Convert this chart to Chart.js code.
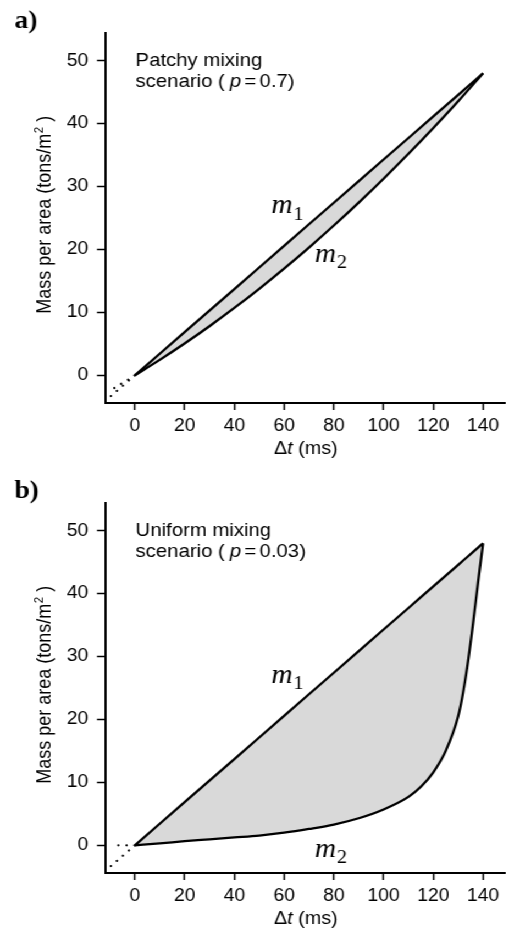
<!DOCTYPE html>
<html><head><meta charset="utf-8">
<script src="https://cdn.jsdelivr.net/npm/chart.js@4.4.0/dist/chart.umd.min.js"></script>
<style>
html,body{margin:0;padding:0;background:#fff;overflow:hidden;width:509px;height:931px;}
#wrap{position:absolute;left:0;top:0;width:463px;height:931px;transform:scaleX(1.0994);transform-origin:0 0;}
canvas{position:absolute;left:0;}
</style></head><body>
<div id="wrap">
<canvas id="ca" width="463" height="465" style="top:0px;width:463px;height:465px"></canvas>
<canvas id="cb" width="463" height="461" style="top:470px;width:463px;height:461px"></canvas>
</div>
<script>
// ---- data ----
const xTicks = [0, 20, 40, 60, 80, 100, 120, 140];
const yTicks = [0, 10, 20, 30, 40, 50];

// panel a: patchy mixing (p = 0.7)
const xA  = [0, 10, 20, 30, 40, 50, 60, 70, 80, 90, 100, 110, 120, 130, 140];
const m1A = [0, 3.43, 6.86, 10.29, 13.71, 17.14, 20.57, 24, 27.43, 30.86, 34.29, 37.71, 41.14, 44.57, 48];
const m2A = [0, 2.45, 5.05, 7.8, 10.7, 13.75, 16.95, 20.3, 23.8, 27.45, 31.25, 35.2, 39.3, 43.55, 48];
const extXA1 = [0, -10.5], extYA1 = [0, -3.6];
const extXA2 = [0, -10],   extYA2 = [0, -2.45];

// panel b: uniform mixing (p = 0.03)
const xB  = [0, 10, 20, 30, 40, 50, 60, 70, 80, 90, 100, 110, 115, 120, 125, 130, 132, 134, 136, 138, 139, 140];
const m1B = [0, 3.43, 6.86, 10.29, 13.71, 17.14, 20.57, 24, 27.43, 30.86, 34.29, 37.71, 39.43, 41.14, 42.86, 44.57, 45.26, 45.94, 46.63, 47.31, 47.66, 48];
const m2B = [0, 0.3, 0.65, 0.95, 1.25, 1.55, 2.0, 2.6, 3.3, 4.3, 5.7, 7.7, 9.3, 11.6, 15.0, 20.5, 24.3, 29.3, 35.3, 41.8, 44.9, 48];
const extXB1 = [0, -10.5], extYB1 = [0, -3.6];
const extXB2 = [0, -9.5],  extYB2 = [0, 0];

// ---- drawing ----
const SANS = '"Liberation Sans", Arial, sans-serif';
const SERIF = '"Liberation Serif", "Times New Roman", serif';
const pts = (xs, ys) => xs.map((x, i) => ({x: x, y: ys[i]}));

function drawM(ctx, sub, x, y) {
  ctx.font = 'italic 27px ' + SERIF;
  ctx.fillText('m', x, y);
  const w = ctx.measureText('m').width;
  ctx.font = '19px ' + SERIF;
  ctx.fillText(sub, x + w + 0.5, y + 6.5);
}

const txtPlugin = {
  id: 'txt',
  afterDraw(chart, args, o) {
    const ctx = chart.ctx, xs = chart.scales.x, ys = chart.scales.y;
    ctx.save();
    ctx.fillStyle = '#000';
    ctx.textBaseline = 'alphabetic';
    ctx.textAlign = 'left';
    // panel letter
    ctx.font = 'bold 25px ' + SERIF;
    ctx.fillText(o.letter, 13.2, 27.5);
    // annotation
    const F = 18.5;
    ctx.font = F + 'px ' + SANS;
    ctx.fillText(o.line1, 123.3, 66);
    let x = 123.3;
    const t1 = 'scenario (';
    ctx.fillText(t1, x, 86.5); x += ctx.measureText(t1).width + 4.5;
    ctx.font = 'italic ' + F + 'px ' + SANS;
    ctx.fillText('p', x, 86.5); x += ctx.measureText('p').width + 3;
    ctx.font = F + 'px ' + SANS;
    ctx.fillText('=', x, 86.5); x += ctx.measureText('=').width + 3;
    ctx.fillText(o.pval + ')', x, 86.5);
    // m labels
    drawM(ctx, '1', xs.getPixelForValue(o.m1[0]), ys.getPixelForValue(o.m1[1]));
    drawM(ctx, '2', xs.getPixelForValue(o.m2[0]), ys.getPixelForValue(o.m2[1]));
    // x title
    const T = 18;
    ctx.font = T + 'px ' + SANS;
    const a = '\u0394', b = 't', c = ' (ms)';
    const wa = ctx.measureText(a).width, wc = ctx.measureText(c).width;
    ctx.font = 'italic ' + T + 'px ' + SANS;
    const wb = ctx.measureText(b).width;
    let sx = 278.3 - (wa + wb + wc) / 2;
    ctx.font = T + 'px ' + SANS; ctx.fillText(a, sx, 454); sx += wa;
    ctx.font = 'italic ' + T + 'px ' + SANS; ctx.fillText(b, sx, 454); sx += wb;
    ctx.font = T + 'px ' + SANS; ctx.fillText(c, sx, 454);
    // y title
    ctx.translate(46, 215);
    ctx.rotate(-Math.PI / 2);
    const main = 'Mass per area (tons/m', sup = '2', tail = ' )';
    ctx.font = T + 'px ' + SANS;
    const w1 = ctx.measureText(main).width, w3 = ctx.measureText(tail).width;
    ctx.font = '11.5px ' + SANS;
    const w2 = ctx.measureText(sup).width;
    let ty = -(w1 + w2 + w3) / 2;
    ctx.font = T + 'px ' + SANS; ctx.fillText(main, ty, 0); ty += w1 + 0.5;
    ctx.font = '11.5px ' + SANS; ctx.fillText(sup, ty, -7.5); ty += w2;
    ctx.font = T + 'px ' + SANS; ctx.fillText(tail, ty, 0);
    ctx.restore();
  }
};

function makeChart(id, H, xs, m1, m2, e1x, e1y, e2x, e2y, txt) {
  const lineDs = (data, extra) => Object.assign({
    data: data, borderColor: '#000', borderWidth: 2.3, pointRadius: 0,
    fill: false, tension: 0
  }, extra || {});
  const dot = { borderDash: [0.01, 7.5], borderCapStyle: 'round', borderWidth: 2.2 };
  new Chart(document.getElementById(id), {
    type: 'line',
    data: {
      datasets: [
        lineDs(pts(xs, m1), { fill: '+1', backgroundColor: '#d9d9d9' }),
        lineDs(pts(xs, m2), { cubicInterpolationMode: 'monotone' }),
        lineDs(pts(e1x, e1y), dot),
        lineDs(pts(e2x, e2y), dot)
      ]
    },
    options: {
      responsive: false, animation: false, devicePixelRatio: 1,
      layout: { padding: { left: 0, right: 3.7, top: 33, bottom: 0 } },
      plugins: { legend: { display: false }, tooltip: { enabled: false },
                 filler: { drawTime: 'beforeDatasetsDraw' }, txt: txt },
      scales: {
        x: {
          type: 'linear', min: -12, max: 148.8,
          afterBuildTicks: s => { s.ticks = xTicks.map(v => ({ value: v })); },
          afterFit: s => { s.height = H - 403; },
          grid: { drawOnChartArea: false, drawTicks: true, tickLength: 7, tickColor: '#000', tickWidth: 1.5 },
          border: { display: true, color: '#000', width: 2 },
          ticks: { color: '#000', font: { family: SANS, size: 17.5 }, padding: 6, maxRotation: 0, autoSkip: false }
        },
        y: {
          type: 'linear', min: -4.4, max: 54.4,
          afterBuildTicks: s => { s.ticks = yTicks.map(v => ({ value: v })); },
          afterFit: s => { s.width = 95.5; },
          grid: { drawOnChartArea: false, drawTicks: true, tickLength: 7.3, tickColor: '#000', tickWidth: 1.5 },
          border: { display: true, color: '#000', width: 2 },
          ticks: { color: '#000', font: { family: SANS, size: 17.5 }, padding: 8, autoSkip: false }
        }
      }
    },
    plugins: [txtPlugin]
  });
}

makeChart('ca', 465, xA, m1A, m2A, extXA1, extYA1, extXA2, extYA2,
  { letter: 'a)', line1: 'Patchy mixing', pval: '0.7', m1: [54.9, 25.75], m2: [72.3, 18.05] });
makeChart('cb', 461, xB, m1B, m2B, extXB1, extYB1, extXB2, extYB2,
  { letter: 'b)', line1: 'Uniform mixing', pval: '0.03', m1: [54.9, 25.8], m2: [72.3, -1.8] });
</script>
</body></html>
